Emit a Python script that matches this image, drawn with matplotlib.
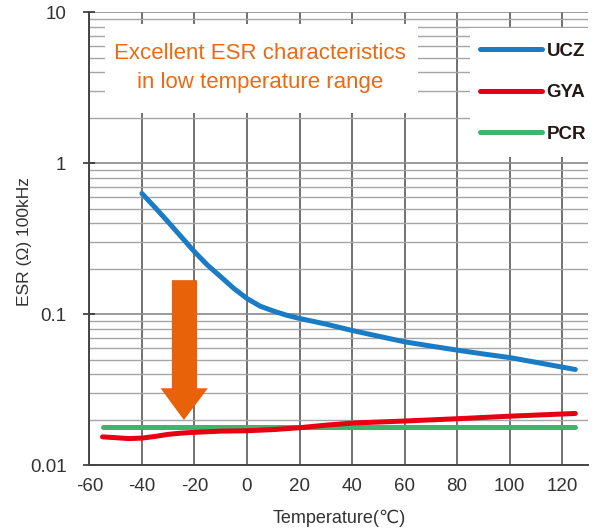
import matplotlib
matplotlib.use("Agg")
import matplotlib.pyplot as plt
from matplotlib.patches import Rectangle, Polygon
from matplotlib.lines import Line2D

plt.rcParams["font.family"] = ["Liberation Sans", "DejaVu Sans"]
plt.rcParams["axes.unicode_minus"] = False

# ---------------------------------------------------------------------------
# data (ESR at 100 kHz, ohm)
# ---------------------------------------------------------------------------
ucz_t = [-40, -35, -30, -25, -20, -15, -10, -5, 0, 5, 10, 15, 20, 30, 40, 50, 60, 70, 80, 90, 100, 110, 125]
ucz_esr = [0.63, 0.509, 0.408, 0.325, 0.259, 0.211, 0.177, 0.148, 0.127, 0.113, 0.105, 0.0985, 0.0937,
           0.086, 0.078, 0.0715, 0.0656, 0.0615, 0.0578, 0.0545, 0.0516, 0.048, 0.043]

gya_t = [-55, -50, -45, -40, -35, -30, -25, -20, -10, 0, 10, 20, 30, 40, 60, 80, 100, 125]
gya_esr = [0.0154, 0.0152, 0.0150, 0.0151, 0.0155, 0.0160, 0.0163, 0.0165, 0.0168, 0.0169,
           0.0172, 0.0177, 0.0184, 0.0190, 0.0196, 0.0203, 0.0211, 0.0220]

pcr_t = [-55, 125]
pcr_esr = [0.0179, 0.0179]

x_ticks = list(range(-60, 121, 20))
y_ticks = [0.01, 0.1, 1, 10]
y_ticklabels = ["0.01", "0.1", "1", "10"]

BLUE = "#1a7cc4"
RED = "#e60012"
GREEN = "#3fb46e"
ORANGE = "#ee6a10"
TXT = "#333333"

fig = plt.figure(figsize=(5.92, 5.31), dpi=100)
ax = fig.add_axes([0.151, 0.124, 0.843, 0.853])

ax.set_yscale("log")
ax.set_xlim(-60, 130)
ax.set_ylim(0.01, 10)

# grid
ax.set_axisbelow(True)
ax.set_xticks(x_ticks)
ax.set_yticks(y_ticks)
ax.set_yticklabels(y_ticklabels)
ax.xaxis.grid(True, color="#666666", lw=1.3)
ax.yaxis.grid(True, which="major", color="#8a8a8a", lw=1.2)
ax.yaxis.grid(True, which="minor", color="#a5a5a5", lw=1.0)

for s in ["top", "right"]:
    ax.spines[s].set_visible(False)
for s in ["left", "bottom"]:
    ax.spines[s].set_color("#444444")
    ax.spines[s].set_linewidth(1.4)

ax.tick_params(axis="y", which="major", direction="inout", length=9, width=1.2,
               color="#333333", labelsize=13.5, pad=12, labelcolor=TXT)
ax.tick_params(axis="y", which="minor", length=0)
ax.tick_params(axis="x", length=0, labelsize=13.5, pad=9, labelcolor=TXT)

# white boxes behind the note and the legend
ax.add_patch(Rectangle((-54.1, 2.14), 119.2, 8.33 - 2.14, facecolor="white",
                       edgecolor="none", zorder=1.5))
ax.add_patch(Rectangle((85, 1.096), 45, 7.83 - 1.096, facecolor="white",
                       edgecolor="none", zorder=1.5))

# curves
ax.plot(ucz_t, ucz_esr, color=BLUE, lw=3.6, solid_capstyle="round", zorder=3)
ax.plot(gya_t, gya_esr, color=RED, lw=3.6, solid_capstyle="round", zorder=3)
ax.plot(pcr_t, pcr_esr, color=GREEN, lw=3.6, solid_capstyle="round", zorder=2.9)

# big orange arrow
arrow = Polygon([(-28.6, 0.168), (-19.0, 0.168), (-19.0, 0.0323), (-14.9, 0.0323),
                 (-24.0, 0.0199), (-32.9, 0.0323), (-28.6, 0.0323)],
                closed=True, facecolor="#e8620a", edgecolor="none", zorder=2.5)
ax.add_patch(arrow)

ax.text(0.342, 0.877, "Excellent ESR characteristics\nin low temperature range",
        transform=ax.transAxes, ha="center", va="center", color=ORANGE,
        fontsize=16, linespacing=1.45, zorder=4)

handles = [Line2D([], [], color=c, lw=3.6, solid_capstyle="round") for c in (BLUE, RED, GREEN)]
leg = ax.legend(handles, ["UCZ", "GYA", "PCR"], loc="upper left",
                bbox_to_anchor=(0.749, 0.97), frameon=False, handlelength=3.3,
                handletextpad=0.25, labelspacing=1.3,
                prop={"weight": "bold", "size": 13.5})
for t in leg.get_texts():
    t.set_color("#231815")

ax.set_ylabel("ESR (\u03a9) 100kHz", fontsize=12.5, color=TXT)
ax.yaxis.set_label_coords(-0.131, 0.494)
ax.yaxis.label.set_va("center")
ax.set_xlabel("Temperature(\u2103)", fontsize=13, color=TXT)
ax.xaxis.set_label_coords(0.5, -0.117)
ax.xaxis.label.set_va("center")

fig.savefig("out.png", dpi=100)
